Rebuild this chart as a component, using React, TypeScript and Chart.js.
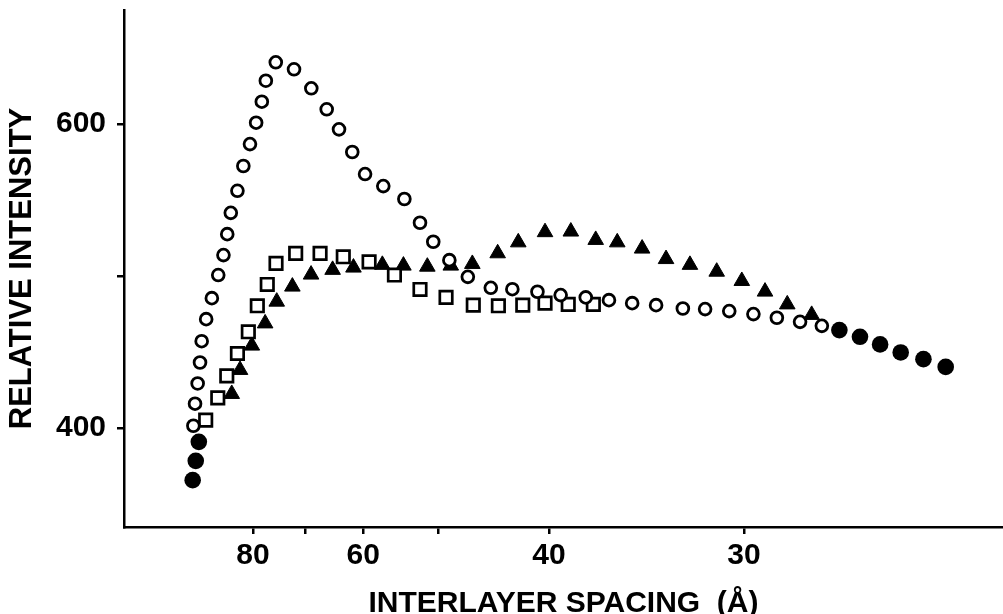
import { useEffect, useRef } from "react";
import { Chart, registerables } from "chart.js";

Chart.register(...registerables);

// x values: reciprocal-spacing-like position (100 / d, Å⁻¹ ×100), y: relative intensity
const FILLED_X = [0.995, 1.008, 1.021, 3.726, 3.813, 3.898, 3.985, 4.081, 4.175];
const FILLED_Y = [365.8, 378.5, 391.0, 464.5, 460.1, 455.1, 449.8, 445.4, 440.3];

const OPEN_X = [
  0.998, 1.005, 1.016, 1.026, 1.033, 1.052, 1.076, 1.103, 1.125, 1.141,
  1.156, 1.184, 1.209, 1.237, 1.263, 1.287, 1.304, 1.346, 1.423, 1.496,
  1.561, 1.613, 1.669, 1.723, 1.8, 1.889, 1.955, 2.011, 2.079, 2.157,
  2.254, 2.345, 2.451, 2.549, 2.655, 2.753, 2.851, 2.952, 3.065, 3.159,
  3.261, 3.363, 3.462, 3.56, 3.652,
];
const OPEN_Y = [
  401.6, 416.1, 429.4, 443.2, 457.2, 471.7, 485.5, 500.7, 513.8, 527.6,
  541.6, 556.1, 572.4, 586.8, 600.9, 614.7, 628.5, 640.6, 636.0, 623.5,
  609.7, 596.5, 581.6, 567.1, 559.2, 550.7, 535.1, 522.6, 510.5, 499.5,
  492.3, 491.4, 489.7, 487.5, 486.0, 484.2, 482.2, 480.9, 478.7, 478.3,
  477.0, 475.0, 472.6, 469.9, 467.3,
];

const SQUARE_X = [
  1.05, 1.101, 1.139, 1.184, 1.23, 1.268, 1.31, 1.347, 1.43, 1.533, 1.631,
  1.74, 1.847, 1.955, 2.065, 2.18, 2.286, 2.389, 2.483, 2.581, 2.687,
];
const SQUARE_Y = [
  405.3, 419.9, 434.4, 449.1, 463.4, 480.5, 494.5, 508.4, 514.9, 514.9, 512.7,
  509.4, 500.7, 491.2, 486.0, 480.9, 480.5, 480.9, 482.2, 481.4, 481.4,
];

const TRI_X = [
  1.16, 1.195, 1.245, 1.301, 1.35, 1.416, 1.495, 1.586, 1.674, 1.796,
  1.885, 1.986, 2.085, 2.176, 2.283, 2.37, 2.483, 2.592, 2.697, 2.788,
  2.893, 2.994, 3.095, 3.208, 3.314, 3.412, 3.506, 3.609,
];
const TRI_Y = [
  422.5, 438.3, 454.3, 468.9, 483.2, 493.1, 501.0, 504.1, 505.6, 507.4,
  506.9, 506.2, 506.9, 508.0, 515.0, 522.2, 528.9, 529.3, 523.8, 522.2,
  518.1, 511.2, 507.4, 502.9, 496.8, 489.8, 481.4, 474.5,
];

const X_TICK_POS = [1.25, 1.47, 1.715, 2.03, 2.5, 3.323];
const X_TICK_LABELS = ["80", "", "60", "", "40", "30"];
const Y_TICKS = [400, 500, 600];
const Y_TICK_LABELS = ["400", "", "600"];

const FONT = "'Liberation Sans', Arial, Helvetica, sans-serif";

export default function App() {
  const ref = useRef<HTMLCanvasElement | null>(null);

  useEffect(() => {
    if (!ref.current) return;
    const zip = (xs: number[], ys: number[]) => xs.map((x, i) => ({ x, y: ys[i] }));
    const chart = new Chart(ref.current, {
      type: "scatter",
      data: {
        datasets: [
          {
            label: "filled",
            data: zip(FILLED_X, FILLED_Y),
            pointStyle: "circle",
            pointRadius: 8.3,
            backgroundColor: "#000",
            borderColor: "#000",
            borderWidth: 0,
          },
          {
            label: "open circles",
            data: zip(OPEN_X, OPEN_Y),
            pointStyle: "circle",
            pointRadius: 5.9,
            backgroundColor: "#fff",
            borderColor: "#000",
            borderWidth: 2.8,
          },
          {
            label: "squares",
            data: zip(SQUARE_X, SQUARE_Y),
            pointStyle: "rect",
            pointRadius: 8.8,
            backgroundColor: "#fff",
            borderColor: "#000",
            borderWidth: 2.7,
          },
          {
            label: "triangles",
            data: zip(TRI_X, TRI_Y),
            pointStyle: "triangle",
            pointRadius: 9,
            backgroundColor: "#000",
            borderColor: "#000",
            borderWidth: 1,
          },
        ],
      },
      options: {
        animation: false,
        responsive: true,
        maintainAspectRatio: false,
        events: [],
        layout: { autoPadding: false, padding: { top: 10, right: 0, left: 0, bottom: 0 } },
        plugins: { legend: { display: false }, tooltip: { enabled: false } },
        scales: {
          x: {
            type: "linear",
            min: 0.705,
            max: 4.417,
            afterBuildTicks: (s: any) => {
              s.ticks = X_TICK_POS.map((v) => ({ value: v }));
            },
            afterFit: (s: any) => {
              s.height = 87;
              s.paddingLeft = 0;
              s.paddingRight = 0;
            },
            ticks: {
              callback: (_v: any, i: number) => X_TICK_LABELS[i],
              color: "#000",
              font: { family: FONT, size: 30, weight: "bold", lineHeight: 1.2 },
              padding: 4,
              maxRotation: 0,
              autoSkip: false,
            },
            grid: {
              drawOnChartArea: false,
              drawTicks: true,
              tickLength: 7,
              color: "#000",
              lineWidth: 2.5,
            },
            border: { display: true, color: "#000", width: 2.5 },
            title: {
              display: true,
              text: "INTERLAYER SPACING  (Å)",
              color: "#000",
              font: { family: FONT, size: 30, weight: "bold", lineHeight: 0.7 },
              padding: { top: 0, bottom: 0 },
            },
          },
          y: {
            type: "linear",
            min: 335,
            max: 675,
            afterBuildTicks: (s: any) => {
              s.ticks = Y_TICKS.map((v) => ({ value: v }));
            },
            afterFit: (s: any) => {
              s.width = 124;
              s.paddingTop = 0;
              s.paddingBottom = 0;
            },
            ticks: {
              callback: (_v: any, i: number) => Y_TICK_LABELS[i],
              color: "#000",
              font: { family: FONT, size: 30, weight: "bold", lineHeight: 1.2 },
              padding: 11,
            },
            grid: {
              drawOnChartArea: false,
              drawTicks: true,
              tickLength: 7,
              color: "#000",
              lineWidth: 2.5,
            },
            border: { display: true, color: "#000", width: 2.5 },
            title: {
              display: true,
              text: "RELATIVE INTENSITY",
              color: "#000",
              font: { family: FONT, size: 31, weight: "bold", lineHeight: 1 },
              padding: { top: 7, bottom: 0 },
            },
          },
        },
      },
    });
    return () => chart.destroy();
  }, []);

  return (
    <div
      style={{
        position: "fixed",
        left: 0,
        top: 0,
        width: 1003,
        height: 614,
        background: "#fff",
      }}
    >
      <canvas ref={ref} />
    </div>
  );
}
